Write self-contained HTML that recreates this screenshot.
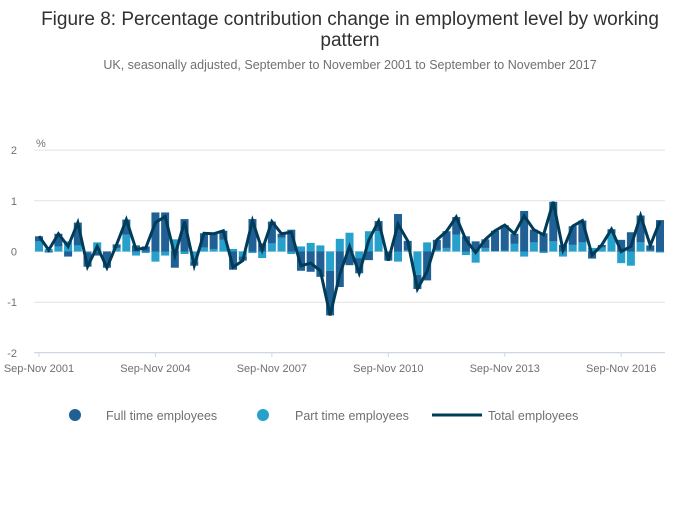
<!DOCTYPE html>
<html><head><meta charset="utf-8"><style>
body{margin:0;background:#fff;font-family:"Liberation Sans",sans-serif;}
svg text{font-family:"Liberation Sans",sans-serif;}
</style></head><body>
<svg id="chart" width="700" height="502">
<text x="350" y="25" text-anchor="middle" font-size="19" fill="#323132">Figure 8: Percentage contribution change in employment level by working</text>
<text x="350" y="46" text-anchor="middle" font-size="19" fill="#323132">pattern</text>
<text x="350" y="69" text-anchor="middle" font-size="12.5" fill="#707070">UK, seasonally adjusted, September to November 2001 to September to November 2017</text>
<text x="36" y="147" font-size="11" fill="#707070">%</text>
<g id="grid"></g><g id="bars"></g><g id="line"></g><g id="xaxis"></g>
<g>
<circle cx="75" cy="415" r="6" fill="#206095"/>
<text x="106" y="420" font-size="12.5" fill="#707070">Full time employees</text>
<circle cx="263" cy="415" r="6" fill="#27a0cc"/>
<text x="295" y="420" font-size="12.5" fill="#707070">Part time employees</text>
<line x1="432" y1="415" x2="482" y2="415" stroke="#003c57" stroke-width="3"/>
<text x="488" y="420" font-size="12.5" fill="#707070">Total employees</text>
</g>
</svg>
<script>
const fullTime=[0.1,-0.02,0.25,-0.1,0.45,-0.28,-0.08,-0.32,0.07,0.3,0.12,0.1,0.77,0.77,-0.32,0.64,-0.08,0.28,0.3,0.18,-0.36,-0.08,0.64,0.16,0.43,0.08,0.43,-0.38,-0.4,-0.5,-0.88,-0.7,-0.27,-0.3,-0.17,0.2,-0.18,0.74,0.18,-0.28,-0.57,0.2,0.33,0.35,0.3,0.2,0.17,0.4,0.5,0.2,0.8,0.25,0.36,0.78,0.13,0.37,0.43,-0.14,0.05,0.08,0.23,0.38,0.53,0.1,0.62];
const partTime=[0.2,0.05,0.1,0.2,0.12,-0.02,0.18,0,0.07,0.33,-0.08,-0.03,-0.2,-0.08,0.24,-0.05,-0.2,0.08,0.05,0.23,0.05,-0.1,-0.03,-0.13,0.16,0.27,-0.05,0.1,0.17,0.12,-0.38,0.25,0.37,-0.13,0.4,0.4,0,-0.2,0.03,-0.46,0.18,0.03,0.07,0.33,-0.07,-0.22,0.07,0.01,0.02,0.15,-0.1,0.18,-0.03,0.2,-0.1,0.13,0.18,0.07,0.08,0.36,-0.23,-0.28,0.18,0.02,-0.02];
const yTicks=[2,1,0,-1,-2];
const xTickIdx=[0,12,24,36,48,60];
const xTickLabels=["Sep-Nov 2001","Sep-Nov 2004","Sep-Nov 2007","Sep-Nov 2010","Sep-Nov 2013","Sep-Nov 2016"];
const NS="http://www.w3.org/2000/svg";
const x0=39,x1=660,yZero=251.5,yUnit=50.7;
const n=fullTime.length;
const xs=i=>x0+(x1-x0)*i/(n-1);
const ys=v=>yZero-v*yUnit;
function mk(tag,attrs,parent){const e=document.createElementNS(NS,tag);for(const k in attrs)e.setAttribute(k,attrs[k]);document.getElementById(parent).appendChild(e);return e;}
yTicks.forEach(t=>{
 const l=mk('line',{x1:34,x2:665,y1:ys(t),y2:ys(t),stroke:'#e2e2e2','stroke-width':1},'grid');
 
 
 const tx=mk('text',{x:17,y:ys(t)+4,'font-size':11,fill:'#707070','text-anchor':'end'},'grid');
 tx.textContent=t;
 
 
});
const bw=8;
for(let i=0;i<n;i++){
 let pos=0,neg=0;
 [[partTime[i],'#27a0cc','bar-part-time'],[fullTime[i],'#206095','bar-full-time']].forEach(([v,c,nm])=>{
  let top,bot;
  if(v>=0){bot=pos;top=pos+v;pos=top;}else{top=neg;bot=neg+v;neg=bot;}
  const r=mk('rect',{x:xs(i)-bw/2,y:ys(top),width:bw,height:Math.max(0,ys(bot)-ys(top)),fill:c},'bars');
  
  
 });
}
const pts=fullTime.map((v,i)=>xs(i)+','+ys(v+partTime[i])).join(' ');
const pl=mk('polyline',{points:pts,fill:'none',stroke:'#003c57','stroke-width':3,'stroke-linejoin':'miter'},'line');


const ax=mk('line',{x1:34,x2:665,y1:352.5,y2:352.5,stroke:'#ccd6e8','stroke-width':1},'xaxis');


xTickIdx.forEach((idx,k)=>{
 const tk=mk('line',{x1:xs(idx),x2:xs(idx),y1:352,y2:357,stroke:'#ccd6e8'},'xaxis');
 
 
 const tx=mk('text',{x:xs(idx),y:372,'font-size':11,fill:'#707070','text-anchor':'middle'},'xaxis');
 tx.textContent=xTickLabels[k];
 
 
});
</script>
</body></html>
